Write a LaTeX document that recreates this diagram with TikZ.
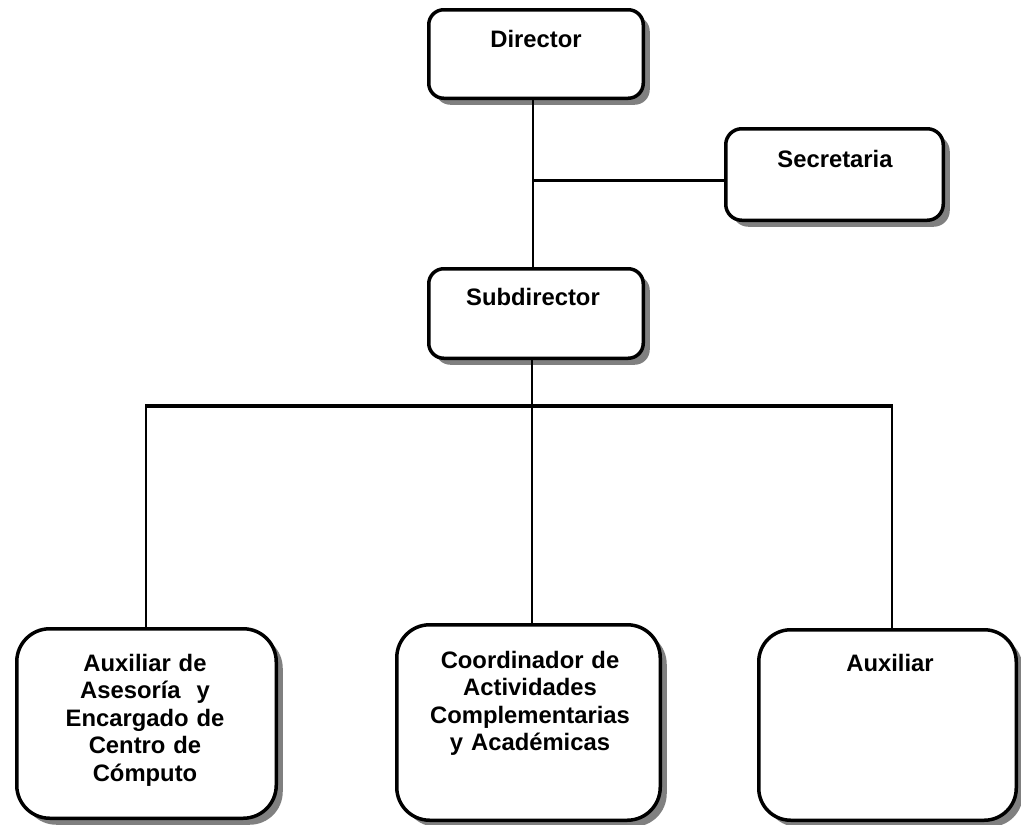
\documentclass[tikz,border=0pt]{standalone}
\usepackage{fontspec}
\setmainfont{Liberation Sans}
\usetikzlibrary{shadows}
\definecolor{shadowgray}{RGB}{128,128,128}
\begin{document}
\begin{tikzpicture}[x=1pt,y=-1pt,
  box/.style={draw=black, line width=3.5pt, fill=white, rectangle, inner sep=0pt,
    rounded corners=#1,
    drop shadow={shadow xshift=6.5pt, shadow yshift=-6.5pt, fill=shadowgray, opacity=1}},
  box/.default=15pt,
  lbl/.style={inner sep=0pt, text width=260pt, align=center, anchor=base,
    font=\fontsize{23.8}{27.5}\selectfont\bfseries},
  thin/.style={line width=1.4pt, draw=black},
  bus/.style={line width=3.5pt, draw=black, line cap=butt}
]
\useasboundingbox[fill=white] (0,0) rectangle (1021,825);

% boxes
\node[box=15pt, minimum width=214.5pt, minimum height=88.5pt] (dir) at (536,54) {};
\node[box=16pt, minimum width=217.5pt, minimum height=91.5pt] (sec) at (834.5,174.5) {};
\node[box=15pt, minimum width=214.5pt, minimum height=89.5pt] (sub) at (536,313.5) {};
\node[box=33pt, minimum width=259.5pt, minimum height=189.5pt] (aux1) at (146.5,723.5) {};
\node[box=33pt, minimum width=263.5pt, minimum height=195.5pt] (coord) at (528.5,722.5) {};
\node[box=32pt, minimum width=257.5pt, minimum height=190.5pt] (aux2) at (887.5,725) {};

% labels
\node[lbl] (tdir) at (536,47) {Director};
\node[lbl] (tsec) at (835,167) {Secretaria};
\node[lbl] (tsub) at (533,305) {Subdirector};
\node[lbl] (taux1) at (145,671) {Auxiliar de\\Asesoría~ y\\Encargado de\\Centro de\\Cómputo};
\node[lbl] (tcoord) at (530,668) {Coordinador de\\Actividades\\Complementarias\\y Académicas};
\node[lbl] (taux2) at (890,671) {Auxiliar};

% connector coordinates
\coordinate (vtop) at (533,0);
\coordinate (vmid) at (532,0);
\coordinate (br) at (533,180);
\coordinate (busl) at (146,406);
\coordinate (busr) at (892,406);

% connectors
\draw[thin] (vtop |- dir.south) -- (vtop |- sub.north);
\draw[line width=3pt] (br) -- (br -| sec.west);
\draw[thin] (vmid |- sub.south) -- (vmid |- coord.north);
\draw[bus] ([xshift=-0.7pt]busl) -- ([xshift=0.7pt]busr);
\draw[thin] (busl) -- (busl |- aux1.north);
\draw[thin] (busr) -- (busr |- aux2.north);
\end{tikzpicture}
\end{document}
